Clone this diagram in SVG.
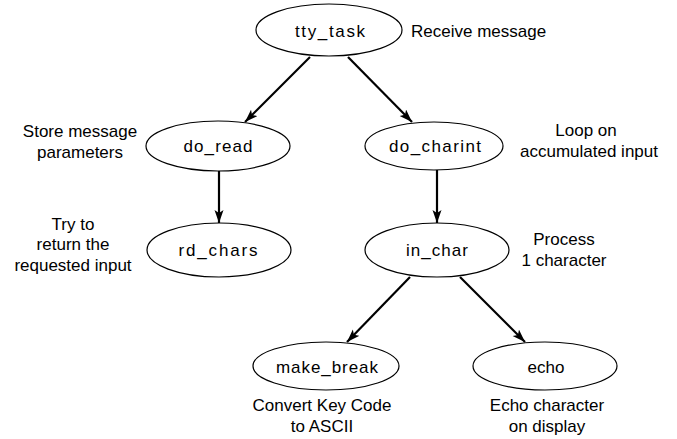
<svg xmlns="http://www.w3.org/2000/svg" width="677" height="439" viewBox="0 0 677 439">
<style>
.n{fill:#fff;stroke:#000;stroke-width:1.2}
.t{font-family:"Liberation Sans",Arial,sans-serif;font-size:17px;fill:#000}
.c{text-anchor:middle}
.e{stroke:#000;stroke-width:2.2;fill:none;marker-end:url(#ah)}
</style>
<defs>
<marker id="ah" markerUnits="userSpaceOnUse" markerWidth="14" markerHeight="10" refX="13" refY="4.5" orient="auto">
<path d="M0,0 L13,4.5 L0,9 L3,4.5 z" fill="#000"/>
</marker>
</defs>
<rect width="677" height="439" fill="#fff"/>
<g id="connectors">
<line class="e" x1="310" y1="57" x2="245" y2="122"/>
<line class="e" x1="348" y1="57" x2="412" y2="122"/>
<line class="e" x1="219" y1="171" x2="219" y2="223"/>
<line class="e" x1="437" y1="170" x2="437" y2="223"/>
<line class="e" x1="410" y1="277" x2="347" y2="342"/>
<line class="e" x1="460" y1="277" x2="525" y2="342"/>
</g>
<g id="tty_task">
<ellipse class="n" cx="329" cy="30" rx="73" ry="26"/>
<text class="t c" x="330" y="37" textLength="70" lengthAdjust="spacing">tty_task</text>
<text class="t" x="411" y="37">Receive message</text>
</g>
<g id="do_read">
<ellipse class="n" cx="218" cy="146" rx="72" ry="25"/>
<text class="t c" x="218" y="152" textLength="69" lengthAdjust="spacing">do_read</text>
<text class="t c" x="80" y="137">Store message</text>
<text class="t c" x="80" y="158">parameters</text>
</g>
<g id="do_charint">
<ellipse class="n" cx="434" cy="146" rx="69" ry="24"/>
<text class="t c" x="435" y="152" textLength="92" lengthAdjust="spacing">do_charint</text>
<text class="t c" x="586" y="136">Loop on</text>
<text class="t" x="520" y="157">accumulated input</text>
</g>
<g id="rd_chars">
<ellipse class="n" cx="219" cy="250" rx="72" ry="27"/>
<text class="t c" x="218" y="256" textLength="79" lengthAdjust="spacing">rd_chars</text>
<text class="t c" x="73" y="230">Try to</text>
<text class="t c" x="73" y="250">return the</text>
<text class="t c" x="73" y="271">requested input</text>
</g>
<g id="in_char">
<ellipse class="n" cx="437" cy="250" rx="72" ry="27"/>
<text class="t c" x="437" y="256" textLength="62" lengthAdjust="spacing">in_char</text>
<text class="t c" x="564" y="245">Process</text>
<text class="t c" x="564" y="266">1 character</text>
</g>
<g id="make_break">
<ellipse class="n" cx="326" cy="366" rx="73" ry="24"/>
<text class="t c" x="327" y="373" textLength="102" lengthAdjust="spacing">make_break</text>
<text class="t c" x="322" y="411">Convert Key Code</text>
<text class="t c" x="322" y="432">to ASCII</text>
</g>
<g id="echo">
<ellipse class="n" cx="545" cy="366" rx="72" ry="24"/>
<text class="t c" x="546" y="373">echo</text>
<text class="t c" x="547" y="411">Echo character</text>
<text class="t c" x="547" y="432">on display</text>
</g>
</svg>
